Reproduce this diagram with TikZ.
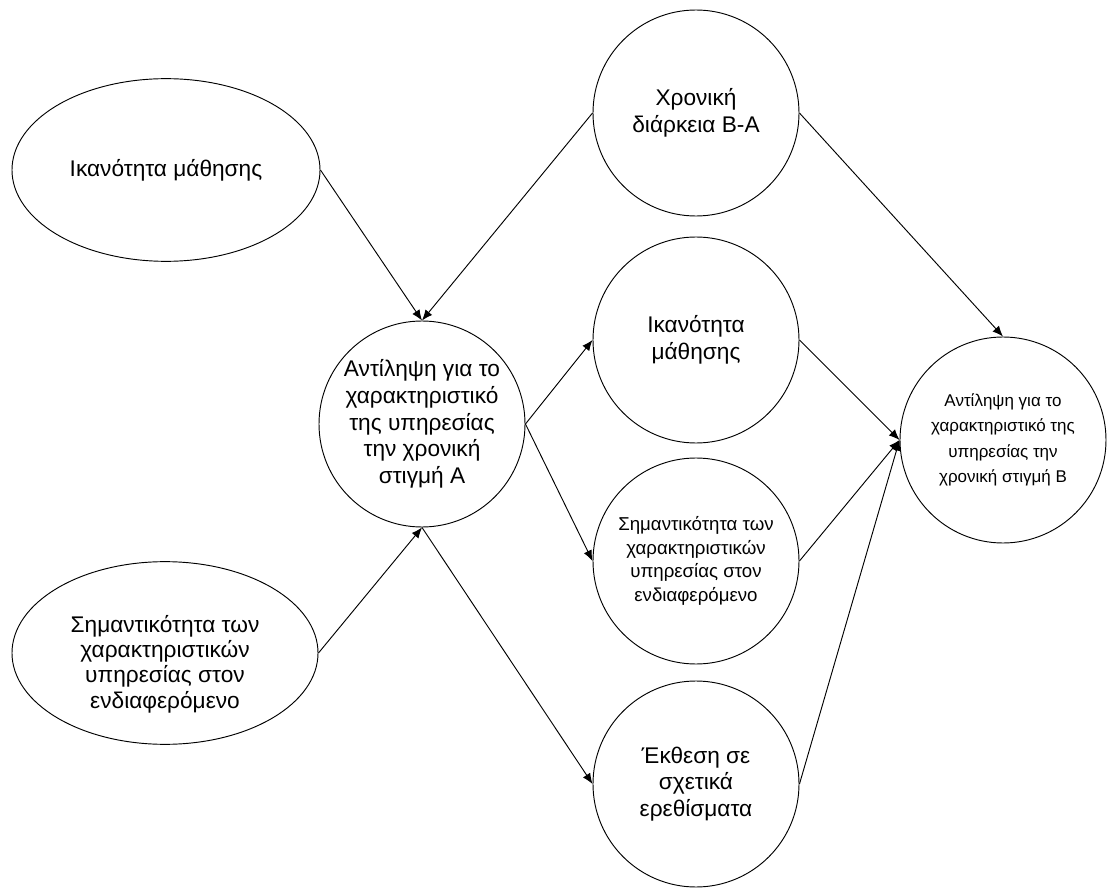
\documentclass[tikz,border=0pt]{standalone}
\usepackage{fontspec}
\setmainfont{Liberation Sans}
\usetikzlibrary{shapes.geometric,arrows.meta}

\tikzset{
  bubble/.style={draw, circle, minimum size=154.5pt, inner sep=0pt, align=center,
    line width=0.7pt, font=\fontsize{17}{20}\selectfont},
  oval/.style={draw, ellipse, inner sep=0pt, align=center,
    line width=0.7pt, font=\fontsize{17}{19.5}\selectfont},
  caption/.style={align=center, inner sep=0pt, font=\fontsize{17}{19}\selectfont},
  link/.style={line width=0.7pt, -{Latex[length=8pt,width=6.5pt]}}
}

\begin{document}
\begin{tikzpicture}[x=0.75pt, y=-0.75pt]
  \useasboundingbox (0,0) rectangle (1108,888);

  % left-hand ovals
  \node[oval, minimum width=231pt, minimum height=137pt] (e1) at (166,170)
    {Ικανότητα μάθησης};
  \node[oval, minimum width=229.5pt, minimum height=137pt] (e2) at (165,653) {};
  \node[caption] (e2text) at (165,664)
    {Σημαντικότητα των\\χαρακτηριστικών\\υπηρεσίας στον\\ενδιαφερόμενο};

  % central perception at time A
  \node[bubble] (A) at (422,424)
    {Αντίληψη για το\\χαρακτηριστικό\\της υπηρεσίας\\την χρονική\\στιγμή Α};

  % mediating factors
  \node[bubble] (T) at (696,113) {Χρονική\\διάρκεια Β-Α};
  \node[bubble] (K) at (696,340) {Ικανότητα\\μάθησης};
  \node[bubble, font=\fontsize{14}{17.8}\selectfont] (S) at (696,561)
    {Σημαντικότητα των\\χαρακτηριστικών\\υπηρεσίας στον\\ενδιαφερόμενο};
  \node[bubble] (E) at (696,784) {Έκθεση σε\\σχετικά\\ερεθίσματα};

  % perception at time B
  \node[bubble, font=\fontsize{12.75}{19}\selectfont] (B) at (1003,440)
    {Αντίληψη για το\\χαρακτηριστικό της\\υπηρεσίας την\\χρονική στιγμή Β};

  % connectors
  \draw[link] (e1.east) -- (A.north);
  \draw[link] (T.west) -- (A.north);
  \draw[link] (e2.east) -- (A.south);
  \draw[link] (A.east) -- (K.west);
  \draw[link] (A.east) -- (S.west);
  \draw[link] (A.south) -- (E.west);
  \draw[link] (T.east) -- (B.north);
  \draw[link] (K.east) -- (B.west);
  \draw[link] (S.east) -- (B.west);
  \draw[link] (E.east) -- (B.west);
\end{tikzpicture}
\end{document}
